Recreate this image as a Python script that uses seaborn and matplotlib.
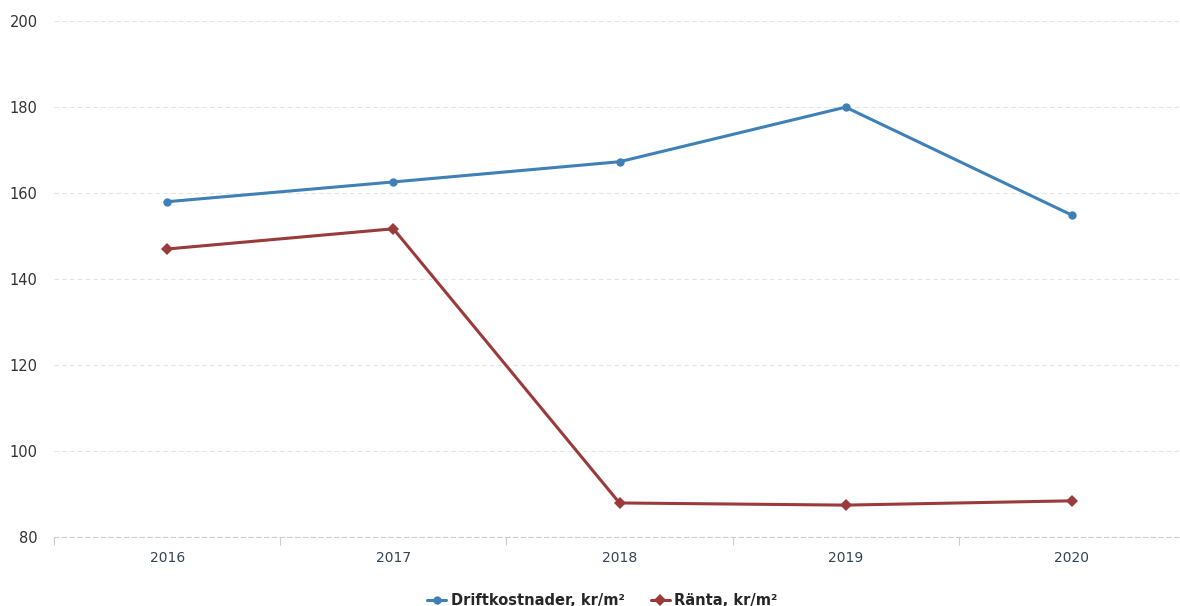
import pandas as pd
import numpy as np
import matplotlib
matplotlib.use("Agg")
import matplotlib.pyplot as plt
import seaborn as sns

years = ["2016", "2017", "2018", "2019", "2020"]
drift = [158.0, 162.6, 167.3, 180.0, 154.9]
ranta = [147.0, 151.7, 87.9, 87.4, 88.4]

s_drift = "Driftkostnader, kr/m²"
s_ranta = "Ränta, kr/m²"

df = pd.DataFrame({
    "year": years * 2,
    "value": drift + ranta,
    "serie": [s_drift] * len(years) + [s_ranta] * len(years),
})

sns.set_style("white")
plt.rcParams['font.family'] = ['Verdana', 'DejaVu Sans']

fig = plt.figure(figsize=(11.8, 6.06), dpi=100)
ax = fig.add_axes([0.046, 0.114, 0.958, 0.851])

sns.lineplot(data=df, x="year", y="value", hue="serie", style="serie",
             palette={s_drift: "#3f80b7", s_ranta: "#9b3a3a"},
             markers={s_drift: "o", s_ranta: "D"}, dashes=False,
             linewidth=2.2, markersize=6, markeredgewidth=0, ax=ax)

ax.set_xlim(-0.5, 4.5)
ax.set_ylim(80, 200)
ax.set_yticks([80, 100, 120, 140, 160, 180, 200])
ax.set_xlabel("")
ax.set_ylabel("")
ax.grid(axis="y", color="#e4e4e4", linestyle=(0, (4, 3)), linewidth=0.8)
ax.set_axisbelow(True)
for sp in ["top", "right", "left"]:
    ax.spines[sp].set_visible(False)
ax.spines["bottom"].set_color("#cccccc")
ax.spines["bottom"].set_linestyle((0, (4, 3)))
ax.spines["bottom"].set_linewidth(0.8)

ax.set_xticks(np.arange(-0.5, 5.0, 1.0), minor=True)
ax.tick_params(axis="x", which="minor", bottom=True, length=6, color="#cccccc", width=0.8)
ax.tick_params(axis="x", which="major", length=0, pad=10, labelsize=10, labelcolor="#334455")
ax.tick_params(axis="y", length=0, pad=12, labelsize=10.5, labelcolor="#333333")

handles, labels = ax.get_legend_handles_labels()
ax.legend(handles, labels, loc="upper center", bbox_to_anchor=(0.485, -0.083),
          ncol=2, frameon=False, handlelength=1.3, handletextpad=0.3,
          columnspacing=1.8, prop={"family": "DejaVu Sans", "weight": "bold", "size": 10.5})

fig.savefig("out.png", dpi=100)
